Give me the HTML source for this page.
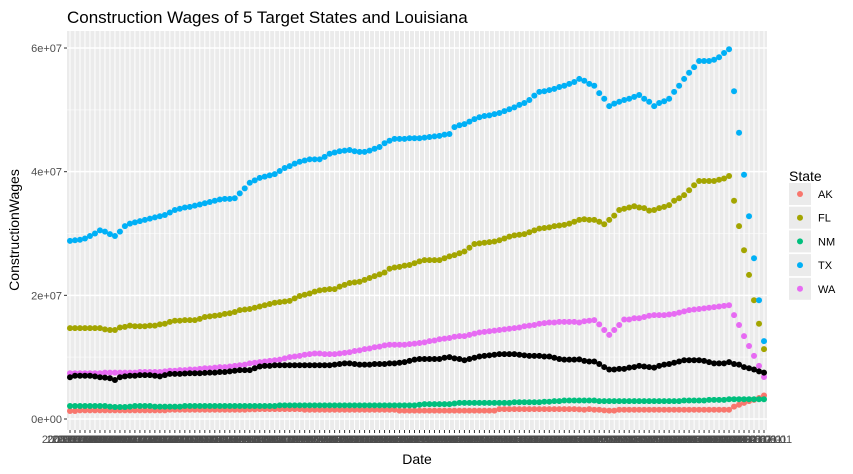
<!DOCTYPE html>
<html><head><meta charset="utf-8">
<style>
html,body{margin:0;padding:0;background:#fff;}
svg{display:block;font-family:"Liberation Sans",Arial,sans-serif;}
</style></head>
<body>
<svg id="chart" width="853" height="474" viewBox="0 0 853 474" xmlns="http://www.w3.org/2000/svg">
  <rect x="0" y="0" width="853" height="474" fill="#fff"/>
  <text x="67" y="23" font-size="17" fill="#000">Construction Wages of 5 Target States and Louisiana</text>
  <rect x="67" y="31" width="700" height="399" fill="#ebebeb"/>
  <g id="grid"></g>
  <g id="yaxis"></g>
  <g id="xaxis"></g>
  <g id="marks"></g>
  <text x="417" y="464" font-size="14" text-anchor="middle" fill="#000">Date</text>
  <text transform="translate(19,230) rotate(-90)" font-size="14" text-anchor="middle" fill="#000">ConstructionWages</text>
  <g id="legend">
    <text x="789" y="181" font-size="14" fill="#000">State</text>
  </g>
</svg>
<script>
const yTicks = [0, 20, 40, 60];
const yTickLabels = ["0e+00", "2e+07", "4e+07", "6e+07"];
const seriesNames = ["AK", "FL", "NM", "TX", "WA"];
const seriesColors = ["#F8766D", "#A3A500", "#00BF7D", "#00B0F6", "#E76BF3"];
const laColor = "#000000";
// values in millions
const tx = [28.8,28.9,29.0,29.2,29.6,30.0,30.5,30.3,29.9,29.6,30.3,31.2,31.6,31.8,
32.0,32.2,32.4,32.6,32.8,33.0,33.4,33.8,34.0,34.2,34.3,34.5,34.7,34.9,35.1,35.3,35.5,35.6,35.6,35.7,36.5,37.3,38.2,
38.6,39.0,39.2,39.4,39.6,40.1,40.6,40.9,41.3,41.6,41.8,42.0,42.0,42.0,42.4,42.9,43.1,43.3,43.4,43.5,
43.3,43.2,43.2,43.4,43.7,44.0,44.6,45.0,45.3,45.3,45.3,45.4,45.4,45.4,45.5,45.6,45.7,45.8,46.0,46.1,
47.2,47.5,47.7,48.1,48.5,48.8,49.0,49.1,49.3,49.5,49.8,50.1,50.4,50.8,51.1,51.6,52.3,52.9,53.0,53.2,
53.4,53.7,53.9,54.2,54.5,
55.0,54.7,54.2,53.9,52.7,51.8,50.6,51.0,51.3,51.6,51.8,52.1,52.4,51.8,51.3,50.6,51.1,51.4,51.8,52.9,
53.9,55.0,56.0,56.9,57.9,57.9,57.9,58.1,58.5,59.2,59.8,53.0,46.3,39.5,32.8,26.0,19.2,12.6];
const fl = [14.7,14.7,14.7,14.7,14.7,14.7,14.7,14.5,14.4,14.4,
14.8,14.9,15.1,15.0,15.0,15.0,15.1,15.1,15.3,15.4,
15.7,15.9,15.9,16.0,16.0,16.0,16.2,16.5,16.6,16.7,
16.8,17.0,17.1,17.3,17.6,17.7,17.8,18.0,18.2,18.4,
18.6,18.8,18.9,19.0,19.1,19.5,19.9,20.1,20.3,20.6,
20.8,20.9,21.0,21.0,21.4,21.7,22.0,22.1,22.2,22.5,
22.8,23.1,23.4,23.7,24.3,24.5,24.6,24.8,24.9,25.2,
25.5,25.7,25.7,25.7,25.7,26.0,26.3,26.5,26.8,27.1,
27.7,28.3,28.4,28.5,28.6,28.7,28.9,29.2,29.5,29.7,
29.8,29.9,30.2,30.5,30.8,30.9,31.0,31.2,31.3,31.4,
31.6,31.9,32.2,32.3,32.2,32.2,31.9,31.5,32.2,32.9,
33.8,34.0,34.2,34.4,34.2,34.1,33.7,33.8,34.1,34.3,
34.6,35.3,35.7,36.2,37.0,37.8,38.5,38.5,38.5,38.5,
38.7,38.9,39.3,35.3,31.2,27.3,23.3,19.2,15.4,11.3];
const wa = [7.4,7.4,7.4,7.4,7.4,7.4,7.4,7.5,7.5,7.5,
7.5,7.5,7.5,7.5,7.6,7.6,7.6,7.6,7.6,7.7,
7.8,7.8,7.9,7.9,8.0,8.0,8.1,8.2,8.2,8.3,
8.4,8.4,8.5,8.6,8.7,8.8,9.0,9.1,9.2,9.3,
9.4,9.5,9.6,9.8,10.0,10.1,10.2,10.4,10.5,10.6,
10.6,10.5,10.5,10.5,10.6,10.7,10.8,11.0,11.1,11.3,
11.4,11.6,11.7,11.9,12.0,12.0,12.0,12.0,12.1,12.2,
12.3,12.4,12.6,12.7,12.9,13.0,13.1,13.3,13.4,13.4,
13.6,13.8,14.0,14.1,14.2,14.3,14.4,14.5,14.6,14.7,
14.8,15.0,15.1,15.2,15.4,15.5,15.6,15.6,15.7,15.7,
15.7,15.7,15.6,15.8,15.9,16.0,15.3,14.4,13.6,14.4,
15.2,16.1,16.1,16.3,16.3,16.5,16.7,16.8,16.8,16.8,
16.9,17.0,17.2,17.4,17.6,17.7,17.8,17.9,18.0,18.1,
18.2,18.3,18.4,16.8,15.2,13.4,11.8,10.2,8.6,6.8];
const la = [6.75,7.0,7.0,7.0,7.0,6.9,6.75,6.7,6.6,6.3,
6.75,6.9,7.0,7.0,7.1,7.1,7.1,7.0,6.9,7.1,
7.3,7.3,7.3,7.35,7.4,7.4,7.4,7.45,7.5,7.5,
7.6,7.6,7.7,7.8,7.9,7.9,7.9,8.2,8.5,8.6,
8.6,8.7,8.7,8.7,8.7,8.7,8.7,8.7,8.7,8.7,
8.7,8.7,8.7,8.8,8.9,9.0,9.0,8.9,8.8,8.8,
8.8,8.9,8.9,8.9,9.0,9.0,9.1,9.2,9.4,9.6,
9.7,9.7,9.7,9.7,9.7,9.9,10.0,9.8,9.7,9.5,
9.7,9.9,10.1,10.2,10.3,10.4,10.5,10.5,10.5,10.5,
10.4,10.3,10.2,10.2,10.2,10.1,10.1,9.9,9.7,9.6,
9.6,9.6,9.65,9.4,9.3,9.3,8.9,8.4,8.0,8.0,
8.1,8.1,8.3,8.4,8.6,8.5,8.4,8.3,8.6,8.8,
8.9,9.1,9.3,9.5,9.5,9.5,9.5,9.4,9.2,9.0,
9.0,9.0,9.2,8.9,8.8,8.4,8.2,8.0,7.7,7.5];
const nm = [2.1,2.1,2.1,2.1,2.1,2.1,2.1,2.1,2.0,1.95,
1.95,1.95,2.0,2.1,2.1,2.1,2.1,2.0,2.0,2.0,
2.0,2.0,2.0,2.1,2.1,2.1,2.1,2.1,2.1,2.1,
2.1,2.1,2.1,2.1,2.1,2.1,2.1,2.1,2.1,2.1,
2.1,2.1,2.2,2.2,2.2,2.2,2.2,2.2,2.2,2.2,
2.2,2.2,2.2,2.2,2.2,2.2,2.2,2.2,2.2,2.2,
2.2,2.2,2.2,2.2,2.2,2.2,2.2,2.2,2.2,2.2,
2.3,2.4,2.4,2.4,2.4,2.4,2.4,2.5,2.6,2.6,
2.6,2.6,2.6,2.6,2.6,2.6,2.6,2.6,2.6,2.7,
2.7,2.7,2.7,2.7,2.7,2.8,2.8,2.9,2.9,3.0,
3.0,3.0,3.0,3.0,3.0,3.0,2.9,2.9,2.9,2.9,
2.9,2.9,2.9,2.9,2.9,2.9,2.9,2.9,2.9,2.9,
2.9,2.9,2.9,3.0,3.0,3.0,3.0,3.0,3.1,3.1,
3.1,3.1,3.2,3.2,3.2,3.2,3.2,3.2,3.2,3.2];
const ak = [1.3,1.3,1.4,1.4,1.4,1.4,1.4,1.4,1.4,1.4,
1.4,1.4,1.4,1.4,1.4,1.4,1.4,1.4,1.4,1.4,
1.5,1.5,1.5,1.5,1.5,1.5,1.5,1.5,1.5,1.5,
1.5,1.5,1.5,1.5,1.5,1.5,1.55,1.55,1.6,1.6,
1.6,1.6,1.6,1.6,1.6,1.6,1.6,1.5,1.5,1.5,
1.5,1.5,1.5,1.5,1.5,1.5,1.5,1.5,1.5,1.5,
1.5,1.5,1.5,1.5,1.5,1.5,1.35,1.35,1.35,1.35,
1.35,1.35,1.35,1.35,1.35,1.35,1.35,1.35,1.35,1.35,
1.35,1.35,1.35,1.35,1.35,1.35,1.6,1.6,1.6,1.6,
1.6,1.6,1.6,1.6,1.6,1.6,1.6,1.6,1.6,1.6,
1.6,1.6,1.56,1.5,1.6,1.5,1.5,1.4,1.35,1.35,
1.5,1.5,1.5,1.5,1.5,1.5,1.5,1.5,1.5,1.5,
1.5,1.5,1.5,1.5,1.5,1.5,1.5,1.5,1.5,1.5,
1.5,1.5,1.5,2.0,2.3,2.6,2.9,3.1,3.4,3.8];
const seriesValues = [ak, fl, nm, tx, wa];
const nCats = tx.length;
const dateLabels = [];
for (let i = 0; i < nCats; i++) {
  const y = 2008 + Math.floor(i / 12), m = (i % 12) + 1;
  dateLabels.push(y + "-" + (m < 10 ? "0" + m : m) + "-01");
}

const NS = "http://www.w3.org/2000/svg";
const PL = 67, PR = 767, PT = 31, PB = 430;
const step = (PR - PL) / (nCats - 1 + 1.2);
function xScale(i) { return PL + (i + 0.6) * step; }
function yScale(v) { return 419 - v * 6.183; }
function mk(tag, attrs, parent) {
  const e = document.createElementNS(NS, tag);
  for (const k in attrs) e.setAttribute(k, attrs[k]);
  parent.appendChild(e);
  return e;
}
const grid = document.getElementById('grid');
const yaxis = document.getElementById('yaxis');
const xaxis = document.getElementById('xaxis');
const marks = document.getElementById('marks');
const legend = document.getElementById('legend');

// minor horizontal grid
for (let k = 0; k < yTicks.length; k++) {
  const v = yTicks[k] + 10;
  const yy = yScale(v);
  if (yy < PT) continue;
  const l = mk('line', {x1: PL, x2: PR, y1: yy, y2: yy, stroke: '#f6f6f6', 'stroke-width': 1}, grid);
  
  
}
// vertical grid
for (let i = 0; i < nCats; i++) {
  const xx = xScale(i);
  const l = mk('line', {x1: xx, x2: xx, y1: PT, y2: PB, stroke: '#ffffff', 'stroke-width': 1}, grid);
  
  
}
// major horizontal grid + y ticks
for (let k = 0; k < yTicks.length; k++) {
  const yy = yScale(yTicks[k]);
  const l = mk('line', {x1: PL, x2: PR, y1: yy, y2: yy, stroke: '#ffffff', 'stroke-width': 1.5}, grid);
  
  
  const t = mk('line', {x1: PL - 3, x2: PL, y1: yy, y2: yy, stroke: '#333', 'stroke-width': 1}, yaxis);
  
  
  const tx_ = mk('text', {x: PL - 5, y: yy + 4, 'font-size': 11, 'text-anchor': 'end', fill: '#4d4d4d'}, yaxis);
  tx_.textContent = yTickLabels[k];
  
  
}
// x ticks & labels
for (let i = 0; i < nCats; i++) {
  const xx = xScale(i);
  const t = mk('line', {x1: xx, x2: xx, y1: PB, y2: PB + 3, stroke: '#333', 'stroke-width': 1}, xaxis);
  
  
  const lb = mk('text', {x: xx, y: PB + 13, 'font-size': 11, 'text-anchor': 'middle', fill: '#4d4d4d'}, xaxis);
  lb.textContent = dateLabels[i];
  
  
}
// points
for (let s = 0; s < seriesValues.length; s++) {
  const g = mk('g', {}, marks);
  
  
  const vals = seriesValues[s];
  for (let i = 0; i < vals.length; i++) {
    const c = mk('circle', {cx: xScale(i), cy: yScale(vals[i]), r: 3, fill: seriesColors[s]}, g);
    
    
  }
}
const gla = mk('g', {}, marks);


for (let i = 0; i < la.length; i++) {
  const c = mk('circle', {cx: xScale(i), cy: yScale(la[i]), r: 3, fill: laColor}, gla);
  
  
}
// legend
for (let s = 0; s < seriesNames.length; s++) {
  const yy = 194 + s * 23.7;
  const key = mk('rect', {x: 789, y: yy - 11, width: 22, height: 22, fill: '#ebebeb'}, legend);
  
  
  const c = mk('circle', {cx: 800, cy: yy, r: 3, fill: seriesColors[s]}, legend);
  
  
  const t = mk('text', {x: 818, y: yy + 4, 'font-size': 11, fill: '#000'}, legend);
  t.textContent = seriesNames[s];
  
  
}
</script>
</body></html>
